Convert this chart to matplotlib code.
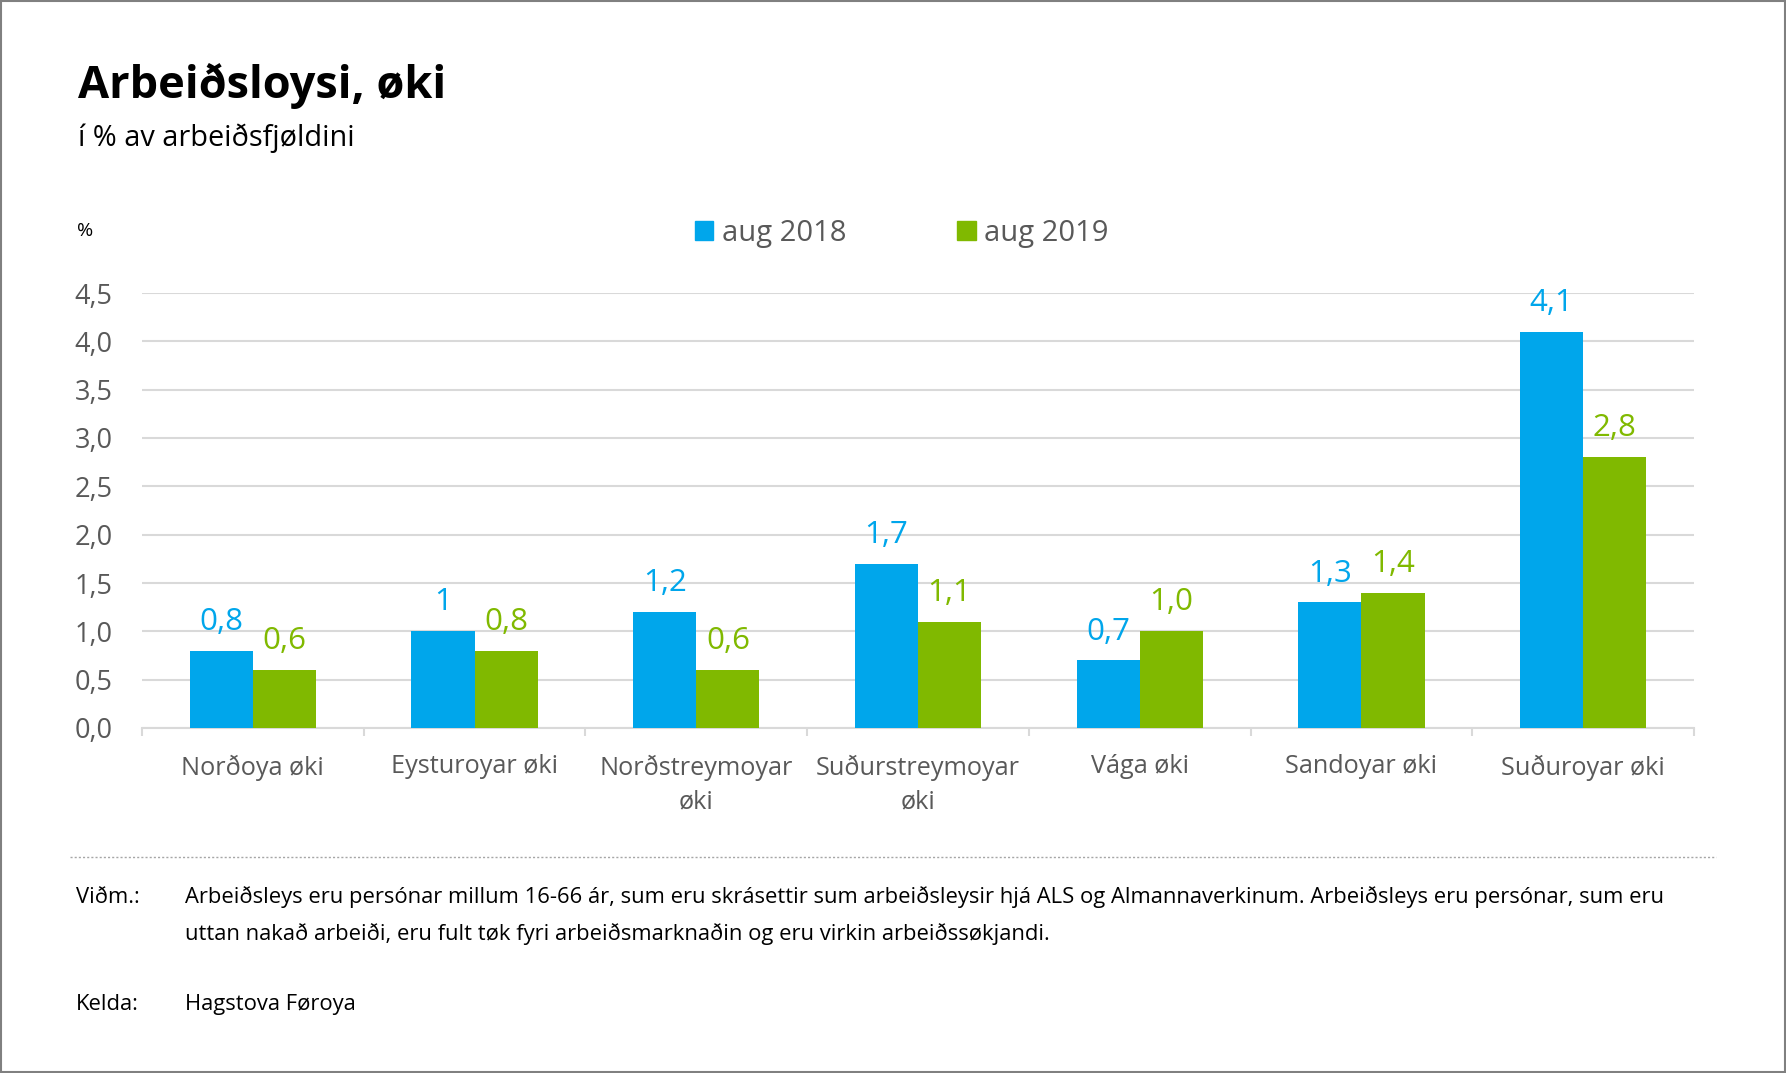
import matplotlib
matplotlib.use("Agg")
import matplotlib.pyplot as plt
from matplotlib.patches import Rectangle
from matplotlib.lines import Line2D
import numpy as np

plt.rcParams['font.family'] = ['Open Sans', 'DejaVu Sans']

categories = ["Norðoya øki", "Eysturoyar øki", "Norðstreymoyar\nøki",
              "Suðurstreymoyar\nøki", "Vága øki", "Sandoyar øki", "Suðuroyar øki"]
series_names = ["aug 2018", "aug 2019"]
values_2018 = [0.8, 1.0, 1.2, 1.7, 0.7, 1.3, 4.1]
values_2019 = [0.6, 0.8, 0.6, 1.1, 1.0, 1.4, 2.8]
labels_2018 = ["0,8", "1", "1,2", "1,7", "0,7", "1,3", "4,1"]
labels_2019 = ["0,6", "0,8", "0,6", "1,1", "1,0", "1,4", "2,8"]
yticks = [0.0, 0.5, 1.0, 1.5, 2.0, 2.5, 3.0, 3.5, 4.0, 4.5]
ytick_labels = ["0,0", "0,5", "1,0", "1,5", "2,0", "2,5", "3,0", "3,5", "4,0", "4,5"]

title = "Arbeiðsloysi, øki"
subtitle = "í % av arbeiðsfjøldini"
unit = "%"
note_label = "Viðm.:"
note_lines = ["Arbeiðsleys eru persónar millum 16-66 ár, sum eru skrásettir sum arbeiðsleysir hjá ALS og Almannaverkinum. Arbeiðsleys eru persónar, sum eru",
              "uttan nakað arbeiði, eru fult tøk fyri arbeiðsmarknaðin og eru virkin arbeiðssøkjandi."]
source_label = "Kelda:"
source_text = "Hagstova Føroya"

BLUE = '#00A6EB'
GREEN = '#80B900'
GRID = '#D9D9D9'
TXT = '#595959'

W, H = 1786, 1073
fig = plt.figure(figsize=(W / 100, H / 100), dpi=100)

def fx(px):
    return px / W

def fy(py):
    return 1 - py / H

left, right, top, bottom = 142, 1694, 293, 728
ax = fig.add_axes([fx(left), fy(bottom), fx(right - left), (bottom - top) / H])

x = np.arange(len(categories))
bw = 0.285
b1 = ax.bar(x - bw / 2, values_2018, bw, color=BLUE, zorder=3)
b2 = ax.bar(x + bw / 2, values_2019, bw, color=GREEN, zorder=3)

for rect, lab in zip(b1, labels_2018):
    ax.annotate(lab, (rect.get_x() + rect.get_width() / 2, rect.get_height()),
                xytext=(0, 15), textcoords='offset points', ha='center', va='baseline',
                color=BLUE, fontsize=22.5)
for rect, lab in zip(b2, labels_2019):
    ax.annotate(lab, (rect.get_x() + rect.get_width() / 2, rect.get_height()),
                xytext=(0, 15), textcoords='offset points', ha='center', va='baseline',
                color=GREEN, fontsize=22.5)

ax.set_xlim(-0.5, len(categories) - 0.5)
ax.set_ylim(0, 4.5)
ax.set_yticks(yticks)
ax.set_yticklabels(ytick_labels)
ax.yaxis.grid(True, color=GRID, lw=1.5, zorder=0)
ax.set_axisbelow(True)
ax.tick_params(axis='y', length=0, pad=21, labelsize=19.5, labelcolor=TXT)

ax.set_xticks(x)
ax.set_xticklabels(categories, linespacing=1.45)
ax.set_xticks(np.arange(-0.5, len(categories), 1.0), minor=True)
ax.tick_params(axis='x', which='major', length=0, pad=19, labelsize=18.2, labelcolor=TXT)
ax.tick_params(axis='x', which='minor', length=6, width=1.5, color=GRID, direction='out')

for s in ['top', 'right', 'left']:
    ax.spines[s].set_visible(False)
ax.spines['bottom'].set_color(GRID)
ax.spines['bottom'].set_linewidth(1.5)

handles = [Rectangle((0, 0), 1, 1, color=BLUE), Rectangle((0, 0), 1, 1, color=GREEN)]
leg = fig.legend(handles, series_names, loc='center', bbox_to_anchor=(fx(902), fy(233.5)),
                 ncol=2, frameon=False, fontsize=21, handlelength=0.62, handleheight=0.62,
                 handletextpad=0.3, columnspacing=3.8, labelcolor=TXT)

fig.text(fx(78), fy(98), title, fontsize=32.5, fontweight='bold', color='black', va='baseline')
fig.text(fx(78), fy(146), subtitle, fontsize=20.8, color='black', va='baseline')
fig.text(fx(77), fy(236), unit, fontsize=14, color='black', va='baseline')

fig.add_artist(Line2D([fx(70), fx(1716)], [fy(857), fy(857)], color='#A6A6A6',
                      lw=1, linestyle=(0, (1.5, 1.5))))

fs_note = 15.8
fig.text(fx(76), fy(903), note_label, fontsize=fs_note, color='black', va='baseline')
fig.text(fx(185), fy(903), note_lines[0], fontsize=fs_note, color='black', va='baseline')
fig.text(fx(185), fy(940), note_lines[1], fontsize=fs_note, color='black', va='baseline')
fig.text(fx(76), fy(1010), source_label, fontsize=fs_note, color='black', va='baseline')
fig.text(fx(185), fy(1010), source_text, fontsize=fs_note, color='black', va='baseline')

fig.add_artist(Rectangle((0.0008, 0.0012), 0.9984, 0.9976, transform=fig.transFigure,
                         fill=False, edgecolor='#808080', lw=1.5))

fig.savefig("out.png", dpi=100)
